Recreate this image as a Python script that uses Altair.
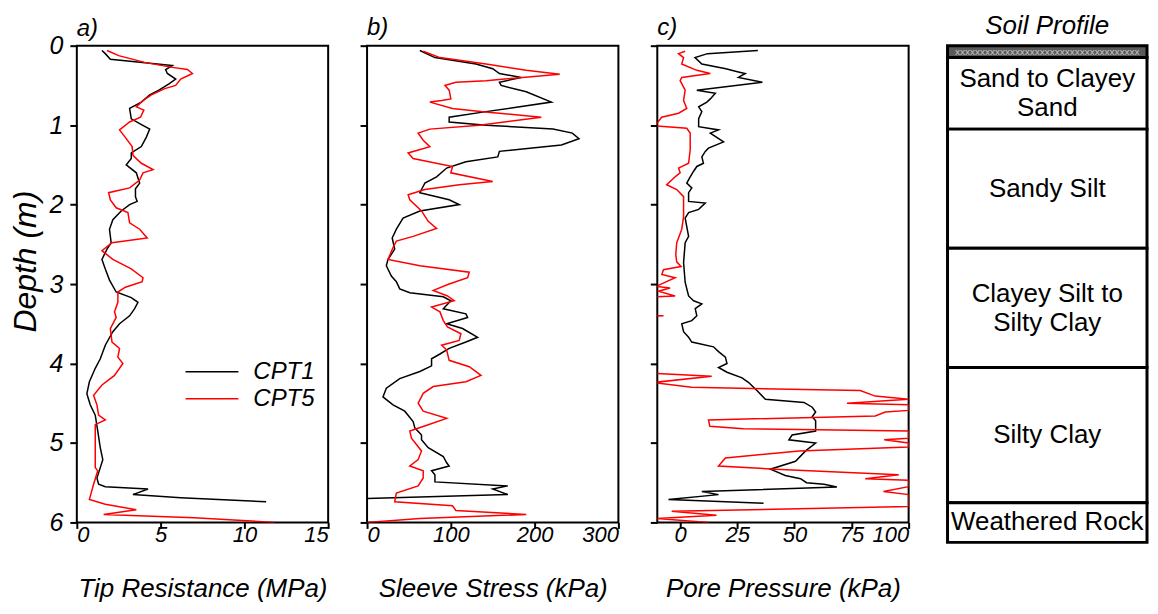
import altair as alt
import pandas as pd

FONT = "Liberation Sans"

# ---------------- Panel a: Tip resistance (MPa) ----------------
tip_cpt1_depth = [0.06, 0.10, 0.17, 0.25, 0.30, 0.35, 0.42, 0.48, 0.56, 0.62, 0.71, 0.79, 0.92, 0.98,
                  1.05, 1.15, 1.27, 1.35, 1.42, 1.50, 1.60, 1.73, 1.80, 1.90, 1.96, 2.00, 2.08, 2.19,
                  2.31, 2.48, 2.56, 2.69, 2.81, 2.95, 3.10, 3.17, 3.23, 3.31, 3.40, 3.50, 3.60, 3.77,
                  3.94, 4.06, 4.23, 4.38, 4.52, 4.65, 4.85, 5.06, 5.21, 5.31, 5.44, 5.52, 5.55, 5.58,
                  5.65, 5.69, 5.74]
tip_cpt1_val = [1.5, 1.7, 2.0, 5.7, 5.3, 5.4, 5.9, 5.5, 4.9, 4.35, 3.85, 3.15, 3.25, 3.75,
                4.35, 4.15, 3.85, 3.25, 3.25, 2.95, 3.55, 3.75, 3.5, 3.5, 3.6, 3.15, 2.65, 2.15,
                1.95, 2.05, 1.8, 1.5, 1.7, 1.95, 2.35, 3.25, 3.65, 3.45, 3.15, 2.55, 2.15, 1.7,
                1.4, 1.1, 0.75, 0.6, 0.8, 1.1, 1.25, 1.4, 1.55, 1.4, 1.2, 1.3, 1.7, 4.25,
                3.35, 6.2, 11.3]
tip_cpt5_depth = [0.06, 0.125, 0.21, 0.27, 0.30, 0.35, 0.42, 0.50, 0.54, 0.62, 0.69, 0.77, 0.81, 0.90,
                  0.96, 1.06, 1.17, 1.27, 1.38, 1.48, 1.56, 1.60, 1.69, 1.79, 1.85, 1.94, 2.04, 2.10,
                  2.23, 2.31, 2.42, 2.48, 2.58, 2.69, 2.81, 2.92, 2.97, 3.04, 3.10, 3.23, 3.35, 3.42,
                  3.56, 3.73, 3.81, 3.92, 4.00, 4.15, 4.27, 4.40, 4.52, 4.65, 4.71, 4.77, 5.02, 5.31,
                  5.35, 5.52, 5.71, 5.77, 5.84, 5.90, 5.94, 6.00]
tip_cpt5_val = [1.8, 2.5, 4.05, 5.6, 6.6, 6.9, 6.2, 5.9, 5.25, 4.45, 3.95, 3.55, 4.0, 3.8,
                3.15, 2.55, 2.95, 3.3, 3.35, 3.85, 4.55, 3.95, 3.75, 3.15, 1.9, 2.0, 2.35, 3.05,
                3.15, 3.75, 4.2, 2.1, 1.5, 2.15, 3.25, 3.95, 3.9, 2.9, 2.45, 2.45, 2.25, 2.35,
                2.0, 2.1, 2.55, 2.45, 2.75, 2.25, 1.5, 1.0, 1.2, 1.3, 1.7, 1.1, 1.1, 1.1,
                1.25, 1.0, 0.75, 1.7, 3.55, 1.6, 7.0, 11.8]

# ---------------- Panel b: Sleeve stress (kPa) ----------------
slv_cpt1_depth = [0.06, 0.15, 0.23, 0.29, 0.35, 0.40, 0.46, 0.50, 0.58, 0.71, 0.83, 0.90, 0.96, 1.00,
                  1.05, 1.10, 1.17, 1.25, 1.33, 1.40, 1.46, 1.54, 1.65, 1.73, 1.81, 1.85, 1.94, 2.00,
                  2.08, 2.17, 2.31, 2.42, 2.56, 2.69, 2.77, 2.90, 2.97, 3.06, 3.11, 3.16, 3.21, 3.31,
                  3.375, 3.42, 3.50, 3.56, 3.67, 3.73, 3.81, 3.88, 3.94, 4.03, 4.10, 4.19, 4.31, 4.42,
                  4.52, 4.60, 4.73, 4.81, 4.90, 4.96, 5.06, 5.17, 5.25, 5.29, 5.35, 5.40, 5.49, 5.54,
                  5.58, 5.65, 5.70]
slv_cpt1_val = [63, 81, 130, 150, 158, 184, 158, 160, 190, 220, 142, 98, 98, 142,
                222, 245, 253, 232, 158, 156, 118, 95, 83, 69, 65, 63, 98, 110,
                63, 43, 35, 30, 33, 25, 23, 29, 35, 39, 51, 91, 100, 91,
                118, 120, 95, 114, 132, 118, 98, 87, 77, 77, 63, 39, 23, 19,
                31, 45, 55, 57, 65, 65, 73, 91, 95, 98, 77, 81, 81, 168,
                150, 168, 0]
slv_cpt5_depth = [0.07, 0.15, 0.23, 0.31, 0.36, 0.44, 0.46, 0.50, 0.56, 0.67, 0.69, 0.71, 0.79, 0.83,
                  0.90, 1.00, 1.05, 1.10, 1.19, 1.27, 1.35, 1.42, 1.52, 1.60, 1.71, 1.75, 1.81, 1.875,
                  1.94, 2.08, 2.21, 2.30, 2.40, 2.46, 2.54, 2.69, 2.77, 2.85, 2.92, 3.00, 3.08, 3.15,
                  3.21, 3.29, 3.35, 3.46, 3.54, 3.625, 3.71, 3.77, 3.83, 3.96, 4.04, 4.15, 4.23, 4.29,
                  4.375, 4.50, 4.60, 4.69, 4.77, 4.85, 4.94, 5.10, 5.21, 5.29, 5.35, 5.44, 5.54, 5.63,
                  5.74, 5.79, 5.85, 5.90, 5.95, 6.00]
slv_cpt5_val = [67, 87, 142, 190, 230, 142, 106, 93, 98, 100, 89, 75, 102, 138,
                208, 134, 75, 61, 67, 75, 49, 55, 102, 100, 150, 110, 69, 49,
                51, 65, 73, 83, 55, 35, 31, 25, 63, 122, 120, 98, 79, 96,
                104, 77, 87, 91, 96, 112, 110, 89, 95, 98, 122, 136, 118, 79,
                67, 61, 67, 95, 73, 51, 53, 65, 61, 51, 67, 67, 61, 35,
                33, 102, 106, 190, 63, 0]

# ---------------- Panel c: Pore pressure (kPa) ----------------
pp_cpt1_depth = [0.06, 0.10, 0.15, 0.23, 0.29, 0.33, 0.35, 0.40, 0.46, 0.56, 0.60, 0.67, 0.71, 0.77,
                 0.83, 0.92, 1.02, 1.06, 1.10, 1.21, 1.29, 1.33, 1.40, 1.48, 1.52, 1.58, 1.65, 1.73,
                 1.79, 1.85, 1.96, 1.98, 2.06, 2.10, 2.17, 2.40, 2.48, 2.73, 2.98, 3.15, 3.21, 3.25,
                 3.31, 3.40, 3.46, 3.50, 3.60, 3.67, 3.73, 3.79, 3.85, 3.92, 4.00, 4.05, 4.11, 4.18,
                 4.24, 4.34, 4.45, 4.49, 4.55, 4.61, 4.67, 4.72, 4.80, 4.85, 4.90, 4.96, 5.00, 5.10,
                 5.23, 5.33, 5.41, 5.45, 5.50, 5.52, 5.555, 5.61, 5.65, 5.71, 5.76]
pp_cpt1_val = [34, 12, 6.5, 9.5, 20, 25.5, 28.5, 25.5, 36, 7.3, 15.4, 13.2, 11.7, 8.1,
               9.5, 8.1, 8.1, 16.8, 13.2, 19.0, 12.4, 11.0, 9.5, 10.2, 7.3, 5.9, 4.4, 2.9,
               5.1, 3.7, 3.7, 11.0, 8.1, 3.7, 2.2, 3.7, 2.2, 1.5, 2.2, 3.7, 5.9, 9.5,
               6.6, 7.3, 5.1, 0.7, 1.5, 3.7, 5.1, 14.6, 16.8, 19.8, 20.5, 16.8, 20.5, 27.1,
               30, 33.6, 37.3, 54.2, 57.8, 59.3, 57.8, 59.3, 59.3, 59.3, 49.0, 47.6, 59.3, 54.9,
               50.5, 39.5, 46, 52.7, 55.3, 63, 68.6, 9.5, 16.8, -5.1, 36.5]
pp_cpt5_depth = [0.07, 0.10, 0.15, 0.23, 0.31, 0.35, 0.40, 0.44, 0.56, 0.69, 0.79, 0.85, 0.90, 1.01,
                 1.04, 1.10, 1.31, 1.48, 1.54, 1.60, 1.65, 1.75, 1.81, 1.90, 2.15, 2.31, 2.42, 2.48,
                 2.63, 2.72, 2.78, 2.82, 2.88, 2.92, 3.03, 3.05, 3.09, 3.15, 3.20, 3.38, 3.40, 3.42,
                 4.08, 4.16, 4.24, 4.30, 4.34, 4.41, 4.45, 4.50, 4.52, 4.59, 4.61, 4.66, 4.71, 4.79,
                 4.82, 4.85, 4.94, 4.96, 5.00, 5.05, 5.10, 5.19, 5.29, 5.33, 5.40, 5.45, 5.47, 5.55,
                 5.61, 5.65, 5.80, 5.86, 5.91, 5.95, 6.00]
pp_cpt5_val = [2.2, -0.7, 1.5, 0.7, 7.3, 13.2, 0.7, 0.0, 2.2, 1.5, 2.9, -0.7, -8.1, -11,
               2.9, 4.4, 4.4, 3.7, -0.7, 0.0, -2.2, -5.9, -1.5, 1.5, 1.5, 0.7, -0.7, -1.5,
               -1.9, -1.5, 0.4, -7.3, -8.0, -2.2, -10.5, -4.4, -9.5, -2.2, -40, -40, -7.3, -40,
               -40, 13.8, -12, 5, 78.8, 85.4, 100, 73, 100, 100, 89.8, 85.4, 12.4, 13,
               27.7, 100, 100, 89.3, 100, 100, 52, 19.8, 16.8, 41.7, 95.7, 81, 100, 100,
               89, 100, 100, -3.7, 15.9, -10.5, 12.4]

# ---------------- Soil profile ----------------
layer_top = [0.0, 0.15, 1.05, 2.55, 4.05, 5.75]
layer_bottom = [0.15, 1.05, 2.55, 4.05, 5.75, 6.25]
layer_names = ["", "Sand to Clayey\nSand", "Sandy Silt", "Clayey Silt to\nSilty Clay",
               "Silty Clay", "Weathered Rock"]
layer_kind = ["fill", "soil", "soil", "soil", "soil", "soil"]

series_names = ["CPT1", "CPT5"]
series_colors = ["#000000", "#ff0000"]
depth_ticks = [0, 1, 2, 3, 4, 5, 6]


def make_df(d1, v1, d5, v5):
    rows = []
    for i, (d, v) in enumerate(zip(d1, v1)):
        rows.append({"depth": d, "value": v, "series": "CPT1", "idx": i})
    for i, (d, v) in enumerate(zip(d5, v5)):
        rows.append({"depth": d, "value": v, "series": "CPT5", "idx": i})
    return pd.DataFrame(rows)


W = 252
H = 478
LBL = 22
TTL = 26


def panel(df, xdom, xticks, xtitle, ptitle, first):
    yaxis_kw = dict(values=depth_ticks, tickSize=7, tickWidth=2, tickColor="black",
                    domain=False, grid=False, labelFont=FONT, labelFontSize=25,
                    labelFontStyle="italic", labelColor="black", labelPadding=7)
    if first:
        yaxis = alt.Axis(title="Depth (m)", titleFont=FONT, titleFontSize=32,
                         titleFontStyle="italic", titleFontWeight="normal",
                         titleColor="black", titlePadding=7, titleY=216, **yaxis_kw)
    else:
        yaxis = alt.Axis(title=None, labels=False, **yaxis_kw)
    xaxis = alt.Axis(values=xticks, orient="bottom", tickSize=6, tickWidth=2, tickColor="black",
                     domain=False, grid=False, labelFont=FONT, labelFontSize=LBL,
                     labelFontStyle="italic", labelColor="black", labelPadding=-4,
                     title=xtitle, titleFont=FONT, titleFontSize=TTL, titleFontStyle="italic",
                     titleFontWeight="normal", titleColor="black", titlePadding=30)
    if first:
        legend = alt.Legend(orient="none", legendX=108, legendY=315, title=None,
                            symbolType="stroke", symbolSize=2809, symbolStrokeWidth=1.5,
                            clipHeight=24, rowPadding=3, labelFont=FONT, labelFontSize=24,
                            labelFontStyle="italic", labelColor="black", labelOffset=14,
                            padding=0)
        toff = -7
    else:
        legend = None
        toff = 5
    return alt.Chart(df).mark_line(strokeWidth=1.5, clip=True).encode(
        x=alt.X("value:Q", scale=alt.Scale(domain=xdom, nice=False, zero=False), axis=xaxis),
        y=alt.Y("depth:Q", scale=alt.Scale(domain=[0, 6], reverse=True, nice=False, zero=False),
                axis=yaxis),
        color=alt.Color("series:N", scale=alt.Scale(domain=series_names, range=series_colors),
                        legend=legend),
        order=alt.Order("idx:Q"),
    ).properties(
        width=W, height=H,
        title=alt.TitleParams(ptitle, anchor="start", frame="group", font=FONT, fontSize=24,
                              fontStyle="italic", fontWeight="normal", color="black",
                              offset=toff),
    )


pa = panel(make_df(tip_cpt1_depth, tip_cpt1_val, tip_cpt5_depth, tip_cpt5_val),
           [0, 15], [0, 5, 10, 15], "Tip Resistance (MPa)", "a)", True)
pb = panel(make_df(slv_cpt1_depth, slv_cpt1_val, slv_cpt5_depth, slv_cpt5_val),
           [0, 300], [0, 100, 200, 300], "Sleeve Stress (kPa)", "b)", False)
pc = panel(make_df(pp_cpt1_depth, pp_cpt1_val, pp_cpt5_depth, pp_cpt5_val),
           [-10, 100], [0, 25, 50, 75, 100], "Pore Pressure (kPa)", "c)", False)

PW = 200
PH = 498
prof = pd.DataFrame({"top": layer_top, "bottom": layer_bottom, "name": layer_names,
                     "kind": layer_kind})
yprof = alt.Scale(domain=[0, 6.25], reverse=True, nice=False, zero=False)
base = alt.Chart(prof).transform_calculate(mid="(datum.top + datum.bottom) / 2")
rects = base.mark_rect(stroke="black", strokeWidth=3).encode(
    y=alt.Y("top:Q", scale=yprof, axis=None),
    y2="bottom:Q",
    x=alt.value(0), x2=alt.value(PW),
    fill=alt.Fill("kind:N", scale=alt.Scale(domain=["fill", "soil"], range=["#5a5a5a", "#ffffff"]),
                  legend=None),
)
text_style = dict(font=FONT, fontSize=26, lineBreak="\n", lineHeight=29, align="center",
                  baseline="middle", color="black")
texts1 = base.transform_filter("indexof(datum.name, '\\n') < 0").mark_text(**text_style).encode(
    y=alt.Y("mid:Q", scale=yprof, axis=None), x=alt.value(PW / 2), text="name:N")
texts2 = base.transform_filter("indexof(datum.name, '\\n') >= 0").mark_text(
    dy=-14, **text_style).encode(
    y=alt.Y("mid:Q", scale=yprof, axis=None), x=alt.value(PW / 2), text="name:N")
hatch = base.transform_filter("datum.kind == 'fill'").mark_text(
    font=FONT, fontSize=10, align="center", baseline="middle", color="#c8c8c8",
    text="x" * 37,
).encode(y=alt.Y("mid:Q", scale=yprof, axis=None), x=alt.value(PW / 2))

pp = alt.layer(rects, hatch, texts1, texts2).properties(
    width=PW, height=PH,
    view=alt.ViewBackground(stroke="transparent"),
    title=alt.TitleParams("Soil Profile", anchor="middle", font=FONT, fontSize=26,
                          fontStyle="italic", fontWeight="normal", color="black", offset=0),
)

chart = alt.hconcat(pa, pb, pc, pp, spacing=39, bounds="flush").resolve_scale(
    color="independent", x="independent", y="independent"
).resolve_legend(color="independent").properties(
    padding={"top": 2, "left": 0, "right": 0, "bottom": 0}
).configure(font=FONT, background="white").configure_view(
    stroke="black", strokeWidth=2
)

chart.save("out.html", embed_options={"renderer": "svg", "actions": False})
